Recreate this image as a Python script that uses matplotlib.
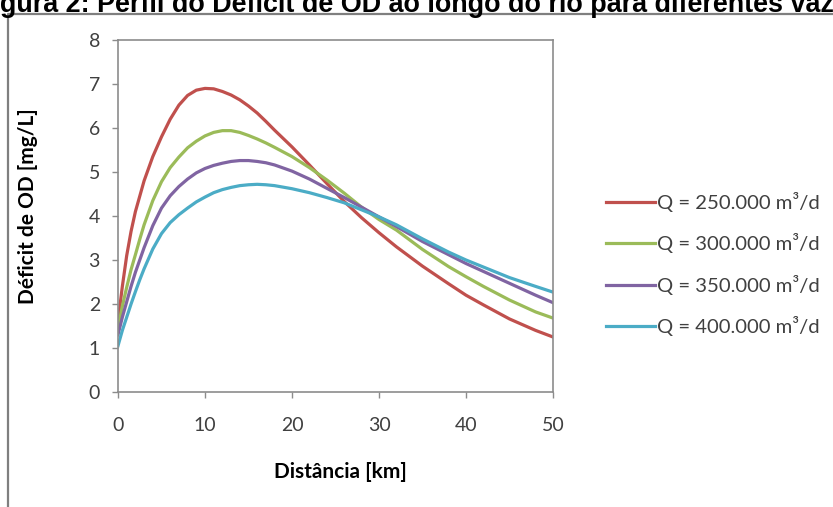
import matplotlib
matplotlib.use("Agg")
import matplotlib.pyplot as plt
from matplotlib.lines import Line2D

# dados
distancia = [0, 0.5, 1, 1.5, 2, 2.5, 3, 4, 5, 6, 7, 8, 9, 10, 11, 12, 13, 14, 15, 16, 17, 18,
             20, 22, 24, 26, 28, 30, 32, 35, 38, 40, 42, 45, 48, 50]
q250 = [1.6, 2.4, 3.1, 3.65, 4.1, 4.45, 4.8, 5.35, 5.8, 6.2, 6.52, 6.74, 6.86, 6.9, 6.89, 6.83, 6.75, 6.64, 6.5, 6.34, 6.15, 5.95,
        5.57, 5.16, 4.74, 4.33, 3.96, 3.62, 3.3, 2.86, 2.46, 2.2, 1.98, 1.66, 1.4, 1.25]
q300 = [1.45, 1.95, 2.38, 2.78, 3.12, 3.47, 3.8, 4.35, 4.78, 5.1, 5.34, 5.55, 5.7, 5.82, 5.9, 5.94, 5.94, 5.9, 5.83, 5.75, 5.66, 5.56,
        5.35, 5.1, 4.82, 4.52, 4.2, 3.92, 3.68, 3.24, 2.85, 2.62, 2.4, 2.09, 1.82, 1.68]
q350 = [1.3, 1.7, 2.05, 2.4, 2.72, 3.0, 3.28, 3.78, 4.18, 4.46, 4.67, 4.84, 4.98, 5.08, 5.15, 5.2, 5.24, 5.26, 5.26, 5.24, 5.21, 5.16,
        5.02, 4.84, 4.63, 4.42, 4.2, 3.98, 3.76, 3.42, 3.12, 2.92, 2.74, 2.47, 2.2, 2.03]
q400 = [1.05, 1.4, 1.7, 2.0, 2.28, 2.55, 2.8, 3.25, 3.6, 3.85, 4.03, 4.18, 4.32, 4.43, 4.53, 4.6, 4.65, 4.69, 4.71, 4.72, 4.71, 4.69,
        4.62, 4.53, 4.42, 4.3, 4.14, 3.98, 3.8, 3.48, 3.18, 3.0, 2.84, 2.6, 2.4, 2.27]

series = [q250, q300, q350, q400]
labels = ['Q = 250.000 m³/d', 'Q = 300.000 m³/d', 'Q = 350.000 m³/d', 'Q = 400.000 m³/d']
cores = ['#C0504D', '#9BBB59', '#8064A2', '#4BACC6']

W, H = 833, 507
fig = plt.figure(figsize=(W / 100, H / 100), dpi=100)
fig.patch.set_facecolor('white')

ax = fig.add_axes([118 / W, 1 - 392 / H, (553 - 118) / W, (392 - 40) / H])

for y, lab, c in zip(series, labels, cores):
    ax.plot(distancia, y, color=c, lw=2.3, label=lab, solid_joinstyle='round')

ax.set_xlim(0, 50)
ax.set_ylim(0, 8)
ax.set_xticks(range(0, 51, 10))
ax.set_yticks(range(0, 9))

fonte = 'Lato'
for s in ax.spines.values():
    s.set_color('#8c8c8c')
    s.set_linewidth(1.2)
ax.tick_params(axis='both', direction='out', length=4, width=1, color='#8c8c8c',
               labelsize=14, labelcolor='#404040')
ax.tick_params(axis='x', pad=14)
ax.tick_params(axis='y', pad=9)
for t in ax.get_xticklabels() + ax.get_yticklabels():
    t.set_fontfamily(fonte)

ax.set_xlabel('Distância [km]', fontsize=15, fontweight='bold', family=fonte, va='center')
ax.xaxis.set_label_coords((340 - 118) / 435, (392 - 472) / 352)
ax.set_ylabel('Déficit de OD [mg/L]', fontsize=15, fontweight='bold', family=fonte, va='center')
ax.yaxis.set_label_coords((28 - 118) / 435, (392 - 206) / 352)

ax.legend(loc='center left', bbox_to_anchor=(606 / W, 1 - 264 / H), bbox_transform=fig.transFigure,
          frameon=False, borderpad=0, borderaxespad=0, handlelength=2.4, handletextpad=0.12,
          labelspacing=1.05, prop={'family': fonte, 'size': 14.6}, labelcolor='#404040')

# moldura externa
fig.add_artist(Line2D([8 / W, 8 / W, 1.0], [0, 1 - 14 / H, 1 - 14 / H],
                      transform=fig.transFigure, color='#7f7f7f', lw=1.6))

# título cortado no topo (como na imagem original)
titulo = 'Figura 2: Perfil do Déficit de OD ao longo do rio para diferentes vazões'
fig.canvas.draw()
r = fig.canvas.get_renderer()
tmp = fig.text(0, 0, 'gura 2: Perfil do Déficit de OD ao longo do rio para diferentes vaz',
               fontsize=10, fontweight='bold', family='Liberation Sans')
larg = tmp.get_window_extent(r).width
tmp.remove()
tam = 10 * (W + 2) / larg
tmp = fig.text(0, 0, 'Fi', fontsize=tam, fontweight='bold', family='Liberation Sans')
desloc = tmp.get_window_extent(r).width
tmp.remove()
fig.text(-desloc / W, 1 - 12 / H, titulo, fontsize=tam, fontweight='bold',
         family='Liberation Sans', va='baseline', ha='left', color='black')

fig.savefig('out.png', dpi=100)
